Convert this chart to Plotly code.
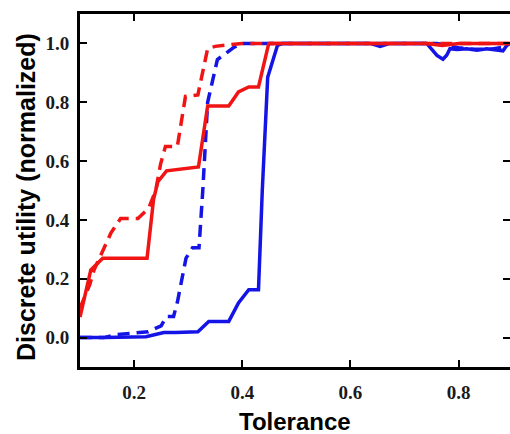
import plotly.graph_objects as go

# Red solid
red_solid_x = [0.100, 0.120, 0.142, 0.224, 0.236, 0.244, 0.260, 0.295, 0.319, 0.336, 0.375, 0.393,
               0.412, 0.430, 0.449, 0.50, 0.60, 0.70, 0.74, 0.77, 0.80, 0.85, 0.90]
red_solid_y = [0.07, 0.23, 0.27, 0.27, 0.47, 0.53, 0.567, 0.576, 0.58, 0.787, 0.787, 0.835,
               0.852, 0.852, 1.0, 1.0, 1.0, 1.0, 1.0, 0.993, 1.0, 1.0, 1.0]

# Red dashed
red_dash_x = [0.100, 0.118, 0.126, 0.157, 0.175, 0.207, 0.227, 0.240, 0.249, 0.258, 0.280, 0.295,
              0.318, 0.336, 0.350, 0.380, 0.400, 0.60, 0.80, 0.90]
red_dash_y = [0.10, 0.18, 0.23, 0.355, 0.405, 0.405, 0.44, 0.50, 0.59, 0.65, 0.65, 0.82,
              0.825, 0.983, 0.99, 0.997, 1.0, 1.0, 1.0, 1.0]

# Blue solid
blue_solid_x = [0.100, 0.144, 0.222, 0.255, 0.277, 0.318, 0.338, 0.375, 0.393, 0.412, 0.430, 0.437,
                0.447, 0.465, 0.475, 0.60, 0.636, 0.655, 0.673, 0.741, 0.760, 0.771, 0.778, 0.784,
                0.797, 0.815, 0.834, 0.852, 0.871, 0.882, 0.889, 0.895]
blue_solid_y = [0.0, 0.0, 0.003, 0.017, 0.017, 0.02, 0.055, 0.055, 0.118, 0.163, 0.163, 0.5,
                0.885, 0.993, 1.0, 1.0, 1.0, 0.99, 1.0, 1.0, 0.959, 0.946, 0.96, 0.982,
                0.979, 0.982, 0.977, 0.982, 0.977, 0.975, 0.993, 1.0]

# Blue dashed
blue_dash_x = [0.100, 0.144, 0.166, 0.200, 0.226, 0.250, 0.260, 0.273, 0.280, 0.296, 0.308, 0.320,
               0.327, 0.336, 0.354, 0.384, 0.400, 0.60, 0.70, 0.76, 0.80, 0.83, 0.86, 0.89]
blue_dash_y = [0.0, 0.0, 0.01, 0.015, 0.02, 0.04, 0.072, 0.072, 0.12, 0.27, 0.305, 0.305,
               0.5, 0.8, 0.945, 0.986, 1.0, 1.0, 1.0, 1.0, 0.985, 0.98, 0.98, 0.99]

x_ticks = [0.2, 0.4, 0.6, 0.8]
y_ticks = [0.0, 0.2, 0.4, 0.6, 0.8, 1.0]

RED = "#f01414"
BLUE = "#1414e6"
LW = 3.5

fig = go.Figure()
fig.add_trace(go.Scatter(x=blue_solid_x, y=blue_solid_y, mode="lines",
                         line=dict(color=BLUE, width=LW), showlegend=False, hoverinfo="skip"))
fig.add_trace(go.Scatter(x=blue_dash_x, y=blue_dash_y, mode="lines",
                         line=dict(color=BLUE, width=LW, dash="12px,7px"), showlegend=False,
                         hoverinfo="skip"))
fig.add_trace(go.Scatter(x=red_solid_x, y=red_solid_y, mode="lines",
                         line=dict(color=RED, width=LW), showlegend=False, hoverinfo="skip"))
fig.add_trace(go.Scatter(x=red_dash_x, y=red_dash_y, mode="lines", yaxis="y2",
                         line=dict(color=RED, width=LW, dash="12px,7px"), showlegend=False,
                         hoverinfo="skip"))

tickfont = dict(family="Liberation Serif", size=19, color="#1a1a1a", weight="bold")

fig.update_layout(
    width=510, height=434,
    margin=dict(l=80, r=0, t=14, b=67),
    plot_bgcolor="white", paper_bgcolor="white",
    xaxis=dict(range=[0.1, 0.895], tickvals=x_ticks, ticktext=[f"{v:.1f}" for v in x_ticks],
               showgrid=False, zeroline=False, showline=True, linecolor="black", linewidth=3,
               mirror="ticks", ticks="inside", ticklen=7, tickwidth=2, tickcolor="black",
               tickfont=tickfont, ticklabelstandoff=6),
    yaxis=dict(range=[-0.1, 1.1], tickvals=y_ticks, ticktext=[f"{v:.1f}" for v in y_ticks],
               showgrid=False, zeroline=False, showline=True, linecolor="black", linewidth=3,
               mirror=False, ticks="inside", ticklen=7, tickwidth=2, tickcolor="black",
               tickfont=tickfont, ticklabelstandoff=4),
    yaxis2=dict(range=[-0.1, 1.1], tickvals=y_ticks, overlaying="y", side="right",
                showgrid=False, zeroline=False, showline=False, showticklabels=False,
                ticks="inside", ticklen=7, tickwidth=2, tickcolor="black"),
    annotations=[
        dict(text="<b>Tolerance</b>", xref="paper", yref="paper", x=0.5, y=-(421 - 367) / 353,
             xanchor="center", yanchor="middle", showarrow=False,
             font=dict(family="Liberation Sans", size=24, color="black")),
        dict(text="<b>Discrete utility (normalized)</b>", xref="paper", yref="paper",
             x=-(80 - 26) / 430, y=(367 - 197) / 353, textangle=-90,
             xanchor="center", yanchor="middle", showarrow=False,
             font=dict(family="Liberation Sans", size=25, color="black")),
    ],
)

fig.write_html("out.html", config={"displayModeBar": False},
               post_script="document.body.style.margin='0';document.body.style.overflow='hidden';")
